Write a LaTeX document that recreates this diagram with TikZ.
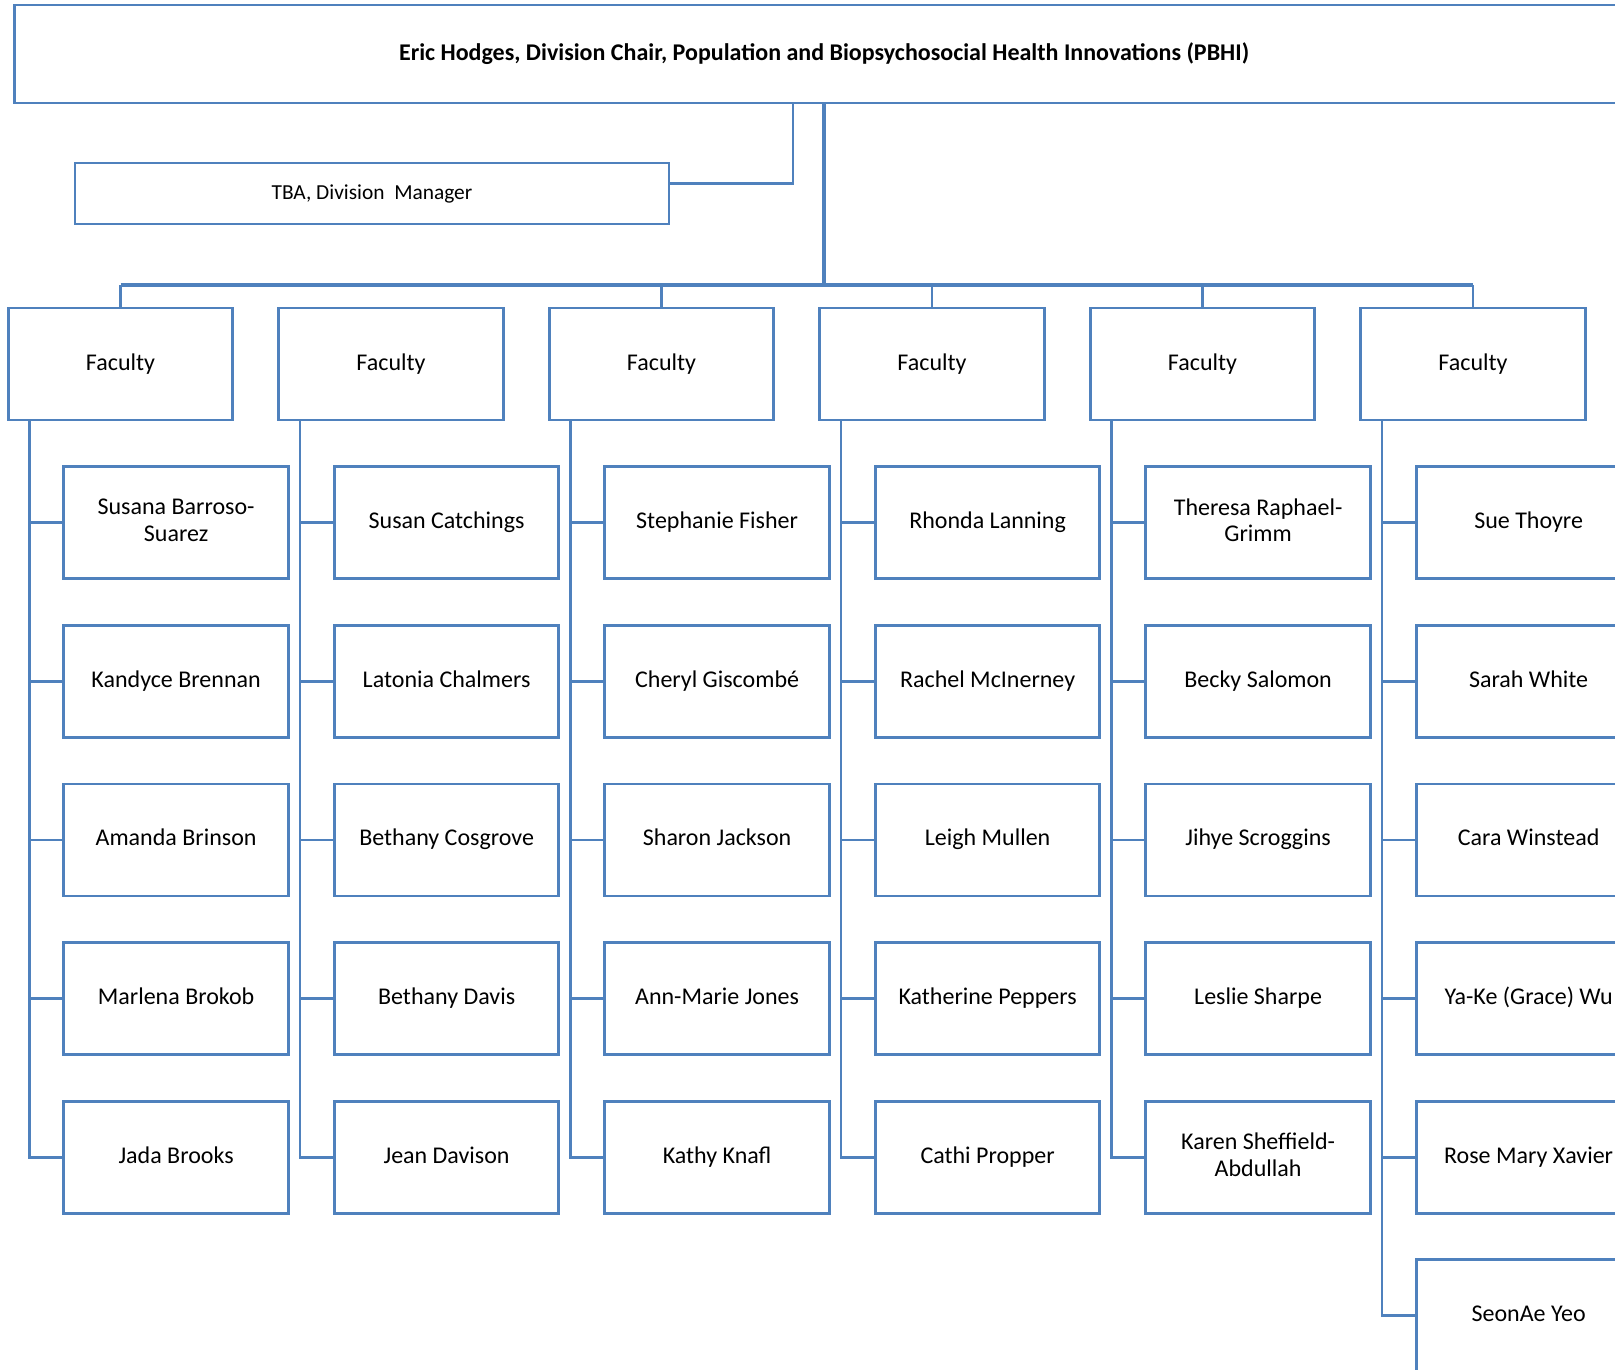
\documentclass[tikz,border=0pt]{standalone}
\usepackage{fontspec}
\setmainfont{Carlito}
\definecolor{obl}{RGB}{79,129,189}
\begin{document}
\begin{tikzpicture}[x=1pt,y=-1pt,
  box/.style={draw=obl,line width=2.8pt,fill=white,inner sep=0pt,align=center,
    minimum width=224.5pt,minimum height=112pt,font=\fontsize{24}{26.5}\selectfont,
    execute at begin node={\rule[-5pt]{0pt}{22pt}}},
  conn/.style={draw=obl,line width=2.8pt},
  trunk/.style={draw=obl,line width=4pt},
  busline/.style={draw=obl,line width=3.6pt}]
\useasboundingbox (0,0) rectangle (1615,1369);
\clip (0,0) rectangle (1615,1369);
% top
\node[box,minimum width=1619pt,minimum height=98pt,font=\bfseries\fontsize{24}{28}\selectfont] (chair) at (824,54)
  {Eric Hodges, Division Chair, Population and Biopsychosocial Health Innovations (PBHI)};
\node[box,minimum width=594pt,minimum height=61pt,font=\fontsize{21.4}{24}\selectfont] (tba) at (372,193.5)
  {TBA, Division\ \ Manager};
\coordinate (k1) at (793,103);
\coordinate (bus) at (0,285);
% faculty
\foreach \i in {1,...,6}{
  \node[box] (f\i) at ({120.5+(\i-1)*270.5},364) {Faculty};
  \coordinate (s\i) at ([xshift=22.7pt]f\i.south west);
}
% children
\newcommand{\kid}[3]{\node[box] (c#1-#2) at ({176.1+(#1-1)*270.5},{522.7+(#2-1)*158.6}) {#3};}
\kid{1}{1}{Susana Barroso-\\Suarez}
\kid{1}{2}{Kandyce Brennan}
\kid{1}{3}{Amanda Brinson}
\kid{1}{4}{Marlena Brokob}
\kid{1}{5}{Jada Brooks}
\kid{2}{1}{Susan Catchings}
\kid{2}{2}{Latonia Chalmers}
\kid{2}{3}{Bethany Cosgrove}
\kid{2}{4}{Bethany Davis}
\kid{2}{5}{Jean Davison}
\kid{3}{1}{Stephanie Fisher}
\kid{3}{2}{Cheryl Giscombé}
\kid{3}{3}{Sharon Jackson}
\kid{3}{4}{Ann-Marie Jones}
\kid{3}{5}{Kathy Knafl}
\kid{4}{1}{Rhonda Lanning}
\kid{4}{2}{Rachel McInerney}
\kid{4}{3}{Leigh Mullen}
\kid{4}{4}{Katherine Peppers}
\kid{4}{5}{Cathi Propper}
\kid{5}{1}{Theresa Raphael-\\Grimm}
\kid{5}{2}{Becky Salomon}
\kid{5}{3}{Jihye Scroggins}
\kid{5}{4}{Leslie Sharpe}
\kid{5}{5}{Karen Sheffield-\\Abdullah}
\kid{6}{1}{Sue Thoyre}
\kid{6}{2}{Sarah White}
\kid{6}{3}{Cara Winstead}
\kid{6}{4}{Ya-Ke (Grace) Wu}
\kid{6}{5}{Rose Mary Xavier}
\kid{6}{6}{SeonAe Yeo}
% connectors
\draw[conn] (k1) |- ([yshift=10pt]tba.east);
\draw[trunk] (chair.south) -- (chair.south |- bus);
\draw[busline] (f1.north |- bus) -- (f6.north |- bus);
\foreach \i in {1,3,4,5,6}{
  \draw[conn] (f\i.north) -- (f\i.north |- bus);
}
\foreach \i in {1,...,5}{
  \draw[conn] (s\i) |- (c\i-5.west);
  \foreach \j in {1,...,4}{
    \draw[conn] (c\i-\j.west) -- (c\i-\j.west -| s\i);
  }
}
\draw[conn] (s6) |- (c6-6.west);
\foreach \j in {1,...,5}{
  \draw[conn] (c6-\j.west) -- (c6-\j.west -| s6);
}
\end{tikzpicture}
\end{document}
